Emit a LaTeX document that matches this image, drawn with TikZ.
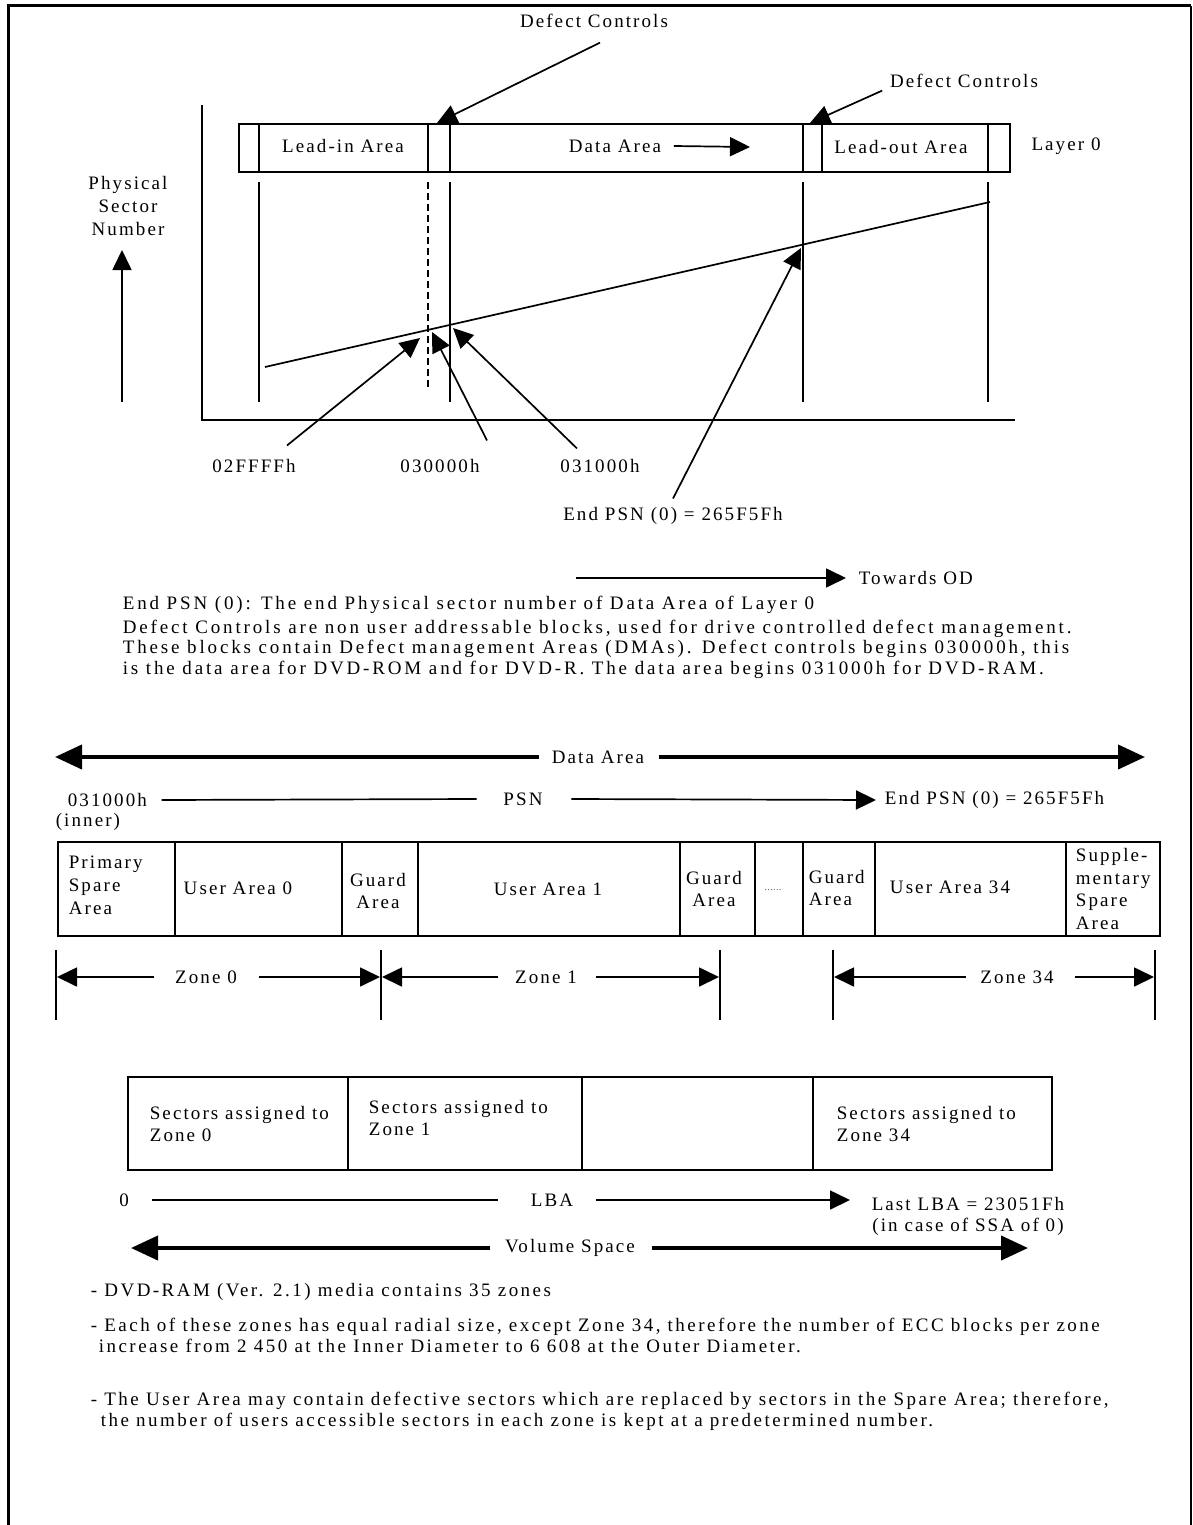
\documentclass[tikz,border=0pt]{standalone}
\usepackage{fontspec}
\setmainfont{Liberation Serif}[LetterSpace=11]
\usetikzlibrary{arrows.meta}

\tikzset{
  lbl/.style={font=\fontsize{19}{22}\selectfont, inner sep=0pt},
  wide/.style={font=\fontsize{19}{20.5}\selectfont\addfontfeatures{LetterSpace=15}},
  ptr/.style={-{Triangle[length=20pt,width=19pt]}},
  fatptr/.style={line width=4pt, -{Triangle[length=27pt,width=24pt]}},
}

\begin{document}
\begin{tikzpicture}[x=1pt,y=-1pt,line width=1.7pt,every node/.style={lbl}]
            \useasboundingbox (0,0) rectangle (1193,1525);
            \draw[line width=3pt] (8,1525)--(8,6)--(1191,6);
            \draw[line width=1.4pt] (1191,6)--(1191,1525);

            \coordinate (O) at (202,420);
            \coordinate (Ytop) at (202,105);
            \coordinate (Xend) at (1015,420);
            \draw (Ytop)--(O)--(Xend);

            \draw (239,124) rectangle (1010,172);
            \foreach \x in {259,428,450,803,822,988} \draw (\x,124)--(\x,172);
            \foreach \x in {259,450,803,988} \draw (\x,182)--(\x,402);
            \draw[dash pattern=on 7pt off 4pt] (428,182)--(428,390);

            \node (leadin) at (343,146) {Lead-in Area};
            \node (data) at (615,146) {Data Area};
            \coordinate (dataend) at (750,147);
            \draw[ptr] ([xshift=12pt]data.east) -- (dataend);
            \node (leadout) at (901,147) {Lead-out Area};
            \node (layer) at (1066,146) {Layer 0};

            \node (dc1) at (594,21) {Defect Controls};
            \coordinate (dc1tip) at (437,123);
            \draw[ptr] ([xshift=6pt,yshift=-14pt]dc1.south) -- (dc1tip);
            \node (dc2) at (964,81) {Defect Controls};
            \coordinate (dc2tip) at (810,123);
            \draw[ptr] ([xshift=-7pt,yshift=-2pt]dc2.south west) -- (dc2tip);

            \node[align=center,font=\fontsize{19}{23}\selectfont] (psn) at (128,206) {Physical\\Sector\\Number};
            \coordinate (upbot) at (122,402);
            \coordinate (uptop) at (122,250);
            \draw[ptr] (upbot) -- (uptop);

            \coordinate (S0) at (265,367);
            \coordinate (S1) at (990,202);
            \draw (S0)--(S1);

            \node (p1) at (254,466) {02FFFFh};
            \node (p2) at (440,466) {030000h};
            \node (p3) at (600,466) {031000h};
            \coordinate (t1) at (420,338);
            \coordinate (t2) at (432,332);
            \coordinate (t3) at (453,328);
            \draw[ptr] ([xshift=33pt,yshift=13pt]p1.north) -- (t1);
            \draw[ptr] ([xshift=47pt,yshift=18pt]p2.north) -- (t2);
            \draw[ptr] ([xshift=-23pt,yshift=10pt]p3.north) -- (t3);

            \node (endpsn) at (673,516) {End PSN (0) = 265F5Fh};
            \coordinate (t4) at (801,248);
            \draw[ptr] ([yshift=8pt]endpsn.north) -- (t4);

            \node[anchor=west] (od) at (858,578) {Towards OD};
            \coordinate (odstart) at (576,578);
            \draw[ptr] (odstart) -- ([xshift=-12pt]od.west);

            \node[anchor=west,wide] (def) at (122,605) {End PSN (0): The end Physical sector number of Data Area of Layer 0};
            \node[anchor=west,align=left,wide] (para) at (122,649) {Defect Controls are non user addressable blocks, used for drive controlled defect management.\\These blocks contain Defect management Areas (DMAs). Defect controls begins 030000h, this\\is the data area for DVD-ROM and for DVD-R. The data area begins 031000h for DVD-RAM.};

            \node (da) at (598,757) {Data Area};
            \coordinate (dal) at (55,757);
            \coordinate (dar) at (1145,757);
            \draw[fatptr] ([xshift=-12pt]da.west) -- (dal);
            \draw[fatptr] ([xshift=14pt]da.east) -- (dar);

            \node[anchor=west] (start) at (67,800) {031000h};
            \node[anchor=west] (inner) at (55,822) {(inner)};
            \node (psnlbl) at (523,799) {PSN};
            \node[anchor=west] (endlbl) at (884,800) {End PSN (0) = 265F5Fh};
            \draw ([xshift=14pt]start.east) -- ([xshift=-26pt]psnlbl.west);
            \draw[ptr] ([xshift=28pt]psnlbl.east) -- ([xshift=-8pt]endlbl.west);

            \draw (58,842) rectangle (1160,936);
            \foreach \x in {175,342,418,680,755,803,875,1066} \draw (\x,842)--(\x,936);
            \node[anchor=west,align=left,font=\fontsize{19}{23}\selectfont] (pri) at (68,885) {Primary\\Spare\\Area};
            \node (ua0) at (238,888) {User Area 0};
            \node[align=center] (g1) at (378,891) {Guard\\Area};
            \node (ua1) at (548,889) {User Area 1};
            \node[align=center] (g2) at (714,889) {Guard\\Area};
            \node[font=\fontsize{8}{8}\selectfont] (dots) at (773,890) {......};
            \node[anchor=west,align=left] (g3) at (808,888) {Guard\\Area};
            \node (ua34) at (950,887) {User Area 34};
            \node[anchor=west,align=left,font=\fontsize{19}{22.7}\selectfont] (ssa) at (1075,889) {Supple-\\mentary\\Spare\\Area};

            \foreach \x in {56,381,720,833,1155} \draw (\x,950)--(\x,1020);
            \node (z0) at (206,977) {Zone 0};
            \node (z1) at (546,977) {Zone 1};
            \node (z34) at (1017,977) {Zone 34};
            \coordinate (z0l) at (57,977);
            \coordinate (z0r) at (380,977);
            \coordinate (z1l) at (382,977);
            \coordinate (z1r) at (719,977);
            \coordinate (z34l) at (834,977);
            \coordinate (z34r) at (1154,977);
            \draw[ptr] ([xshift=-20pt]z0.west) -- (z0l);
            \draw[ptr] ([xshift=21pt]z0.east) -- (z0r);
            \draw[ptr] ([xshift=-16pt]z1.west) -- (z1l);
            \draw[ptr] ([xshift=18pt]z1.east) -- (z1r);
            \draw[ptr] ([xshift=-14pt]z34.west) -- (z34l);
            \draw[ptr] ([xshift=21pt]z34.east) -- (z34r);

            \draw (128,1077) rectangle (1052,1170);
            \foreach \x in {348,582,813} \draw (\x,1077)--(\x,1170);
            \node[anchor=west,align=left] (s0) at (149,1124) {Sectors assigned to\\Zone 0};
            \node[anchor=west,align=left] (s1) at (368,1118) {Sectors assigned to\\Zone 1};
            \node[anchor=west,align=left] (s34) at (836,1124) {Sectors assigned to\\Zone 34};

            \node (zero) at (124,1200) {0};
            \node (lba) at (552,1200) {LBA};
            \node[align=center,font=\fontsize{19}{21}\selectfont] (last) at (968,1216) {Last LBA = 23051Fh\\(in case of SSA of 0)};
            \coordinate (lbaend) at (850,1200);
            \draw ([xshift=22pt]zero.east) -- ([xshift=-32pt]lba.west);
            \draw[ptr] ([xshift=22pt]lba.east) -- (lbaend);

            \node (vol) at (570,1248) {Volume Space};
            \coordinate (vl) at (131,1248);
            \coordinate (vr) at (1028,1248);
            \draw[fatptr] ([xshift=-14pt]vol.west) -- (vl);
            \draw[fatptr] ([xshift=16pt]vol.east) -- (vr);

            \node[anchor=west,font=\fontsize{19}{21}\selectfont\addfontfeatures{LetterSpace=13}] (b1) at (90,1292) {- DVD-RAM (Ver. 2.1) media contains 35 zones};
            \node[anchor=west,align=left,font=\fontsize{19}{21}\selectfont\addfontfeatures{LetterSpace=13}] (b2) at (90,1335) {- Each of these zones has equal radial size, except Zone 34, therefore the number of ECC blocks per zone\\\hspace*{8pt}increase from 2 450 at the Inner Diameter to 6 608 at the Outer Diameter.};
            \node[anchor=west,align=left,font=\fontsize{19}{21}\selectfont\addfontfeatures{LetterSpace=13}] (b3) at (90,1411) {- The User Area may contain defective sectors which are replaced by sectors in the Spare Area; therefore,\\\hspace*{10pt}the number of users accessible sectors in each zone is kept at a predetermined number.};
        \end{tikzpicture}
\end{document}
